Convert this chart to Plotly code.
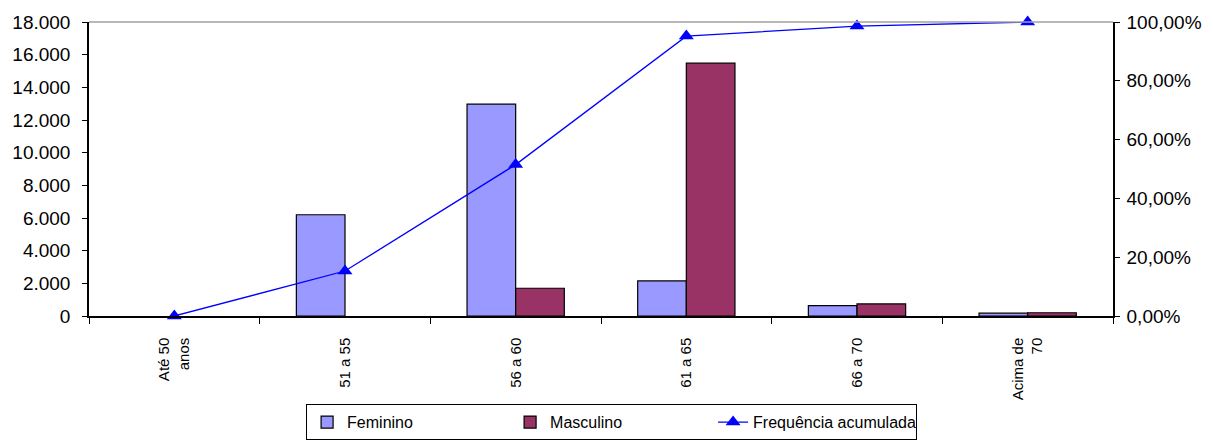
import plotly.graph_objects as go

categories = ["Até 50<br>anos", "51 a 55", "56 a 60", "61 a 65", "66 a 70", "Acima de<br>70"]
feminino = [None, 6200, 12970, 2150, 640, 170]
masculino = [None, None, 1700, 15480, 740, 200]
freq_acumulada = [0.0, 15.3, 51.5, 95.2, 98.6, 100.0]

FONT = "Liberation Sans"

fig = go.Figure()
fig.add_trace(go.Bar(
    x=categories, y=feminino, name="Feminino",
    marker=dict(color="#9999FF", line=dict(color="black", width=1.2)),
))
fig.add_trace(go.Bar(
    x=categories, y=masculino, name="Masculino",
    marker=dict(color="#993366", line=dict(color="black", width=1.2)),
))
fig.add_trace(go.Scatter(
    x=categories, y=freq_acumulada, name="Frequência acumulada", yaxis="y2",
    mode="lines+markers", cliponaxis=False,
    line=dict(color="#0000FF", width=1.3),
    marker=dict(symbol="triangle-up", size=13, color="#0000FF"),
))

fig.update_layout(
    width=1205, height=440,
    margin=dict(l=81, r=100, t=14, b=132, autoexpand=False),
    paper_bgcolor="white", plot_bgcolor="white",
    separators=",.",
    barmode="group", bargap=0.43, bargroupgap=0,
    font=dict(family=FONT, color="black", size=18),
    showlegend=True,
    legend=dict(
        orientation="h", x=0.212, xanchor="left", y=-0.30, yanchor="top",
        bordercolor="black", borderwidth=1, bgcolor="white",
        font=dict(family=FONT, size=16, color="black"),
        entrywidth=158, traceorder="normal",
    ),
    xaxis=dict(
        type="category", showline=True, linecolor="black", linewidth=1.5,
        ticks="outside", ticklen=6, tickcolor="black", tickson="boundaries",
        tickangle=-90, tickfont=dict(size=15, family=FONT),
        showgrid=False, zeroline=False, ticklabelstandoff=14, automargin=False,
    ),
    yaxis=dict(
        range=[0, 18000], dtick=2000, tickformat=",.0f",
        showline=True, linecolor="black", linewidth=1.5,
        ticks="outside", ticklen=5, tickcolor="black", ticklabelstandoff=8,
        showgrid=False, zeroline=False, tickfont=dict(size=19, family=FONT),
        automargin=False,
    ),
    yaxis2=dict(
        range=[0, 100], dtick=20, tickformat=".2f", ticksuffix="%",
        overlaying="y", side="right",
        showline=True, linecolor="black", linewidth=1.5,
        ticks="outside", ticklen=5, tickcolor="black", ticklabelstandoff=3,
        showgrid=False, zeroline=False, tickfont=dict(size=19, family=FONT),
        automargin=False,
    ),
    shapes=[dict(type="line", xref="paper", yref="paper", x0=0, x1=1, y0=1, y1=1,
                 line=dict(color="#A0A0A0", width=1.5))],
)

fig.write_html("out.html")
